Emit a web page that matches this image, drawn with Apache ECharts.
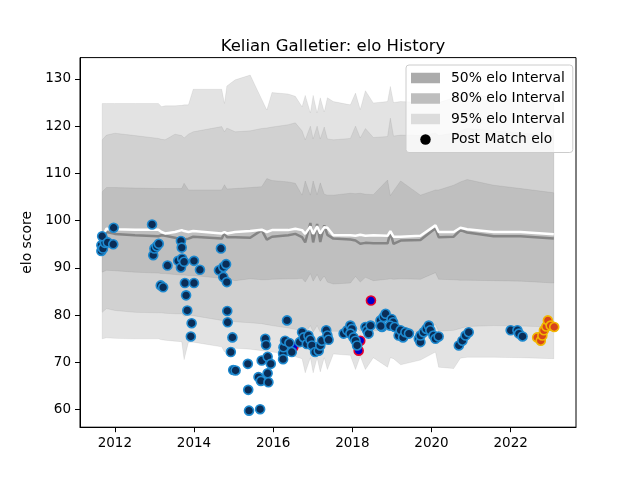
<!DOCTYPE html>
<html>
<head>
<meta charset="utf-8">
<script src="https://cdn.jsdelivr.net/npm/echarts@6/dist/echarts.min.js"></script>
<style>
  html, body { margin: 0; padding: 0; background: #fff; }
  #main { width: 640px; height: 480px; }
</style>
</head>
<body>
<div id="main"></div>
<script>
// band sample dates (decimal years)
var bandYears = [2011.68, 2011.79, 2012.0, 2012.51, 2013.10, 2013.18, 2013.27, 2013.52, 2013.69, 2013.75,
  2013.86, 2013.98, 2014.70, 2014.77, 2014.83, 2015.04, 2015.42, 2015.71, 2015.84, 2015.97,
  2016.38, 2016.56, 2016.73, 2016.81, 2016.94, 2017.01, 2017.11, 2017.19, 2017.29, 2017.37,
  2017.52, 2017.95, 2018.08, 2018.20, 2018.33, 2018.53, 2018.89, 2018.96, 2019.04, 2019.22,
  2019.72, 2020.10, 2020.18, 2020.56, 2020.73, 2020.90, 2021.57, 2022.25, 2023.09];

var upper95 = [124.8, 124.8, 124.8, 124.8, 124.8, 124.1, 124.3, 124.3, 124.4, 124.5,
  124.5, 127.8, 127.8, 124.8, 128.5, 129.8, 130.8, 125.7, 123.4, 127.1,
  126.8, 126.3, 124.1, 126.5, 122.8, 126.5, 122.8, 126.0, 123.0, 126.0,
  125.2, 124.5, 127.0, 123.5, 127.5, 124.9, 125.2, 128.4, 125.0, 125.2,
  125.0, 126.5, 125.0, 126.0, 126.5, 127.0, 126.0, 125.5, 125.0];
var upper80 = [117.1, 118.1, 118.5, 118.0, 117.4, 117.2, 117.1, 118.3, 118.0, 117.5,
  118.3, 118.8, 119.9, 118.8, 119.6, 118.8, 119.0, 119.5, 119.6, 119.8,
  120.3, 120.7, 119.0, 117.1, 120.0, 117.3, 120.0, 117.3, 119.8, 117.3,
  117.1, 117.4, 120.0, 117.5, 119.5, 117.6, 117.8, 121.7, 117.9, 118.1,
  118.0, 118.5, 118.0, 118.5, 119.0, 119.5, 119.0, 118.5, 118.0];
var upper50 = [106.1, 107.0, 107.0, 106.9, 106.8, 106.8, 106.8, 106.8, 106.8, 107.9,
  106.5, 106.5, 106.5, 107.6, 106.7, 106.8, 107.0, 107.2, 108.9, 108.5,
  108.2, 107.9, 105.4, 108.4, 105.4, 108.4, 105.5, 108.0, 105.6, 105.4,
  105.4, 105.8, 105.7, 105.8, 105.6, 105.5, 108.6, 105.3, 106.3, 108.4,
  105.4, 106.5, 106.5, 107.5, 108.2, 108.7, 107.5, 106.8, 105.9];
var lineLight = [96.5, 98.3, 98.2, 98.1, 98.1, 97.6, 97.3, 97.6, 98.0, 97.8,
  97.6, 97.8, 97.3, 97.6, 97.3, 97.6, 97.8, 98.1, 97.6, 98.0,
  98.0, 98.3, 98.0, 97.2, 98.8, 97.2, 98.8, 97.3, 98.6, 98.5,
  96.9, 96.9, 96.8, 97.0, 96.8, 96.9, 96.8, 97.8, 96.6, 96.6,
  96.8, 99.0, 97.6, 97.6, 98.5, 98.2, 97.6, 97.6, 97.1];
var lineDark = [95.8, 97.6, 97.2, 96.9, 96.7, 96.9, 96.8, 96.4, 96.0, 96.0,
  96.2, 96.6, 96.2, 97.4, 96.5, 96.5, 96.4, 98.0, 96.0, 96.6,
  96.9, 97.2, 96.5, 95.4, 99.5, 95.4, 99.3, 95.5, 99.0, 97.0,
  96.2, 96.0, 95.8, 95.1, 95.3, 95.2, 95.2, 97.5, 95.1, 95.8,
  95.9, 98.4, 96.5, 96.6, 98.0, 97.5, 96.7, 96.7, 96.2];
var lower50 = [89.1, 89.5, 89.4, 89.1, 88.9, 88.8, 88.8, 88.6, 88.5, 88.5,
  88.4, 88.4, 87.8, 87.7, 87.7, 87.3, 87.7, 87.5, 87.5, 87.6,
  87.7, 87.7, 87.8, 87.0, 88.8, 87.2, 88.6, 87.2, 88.3, 87.0,
  86.6, 86.8, 88.2, 87.0, 88.0, 87.3, 87.6, 87.7, 87.6, 87.7,
  87.6, 89.0, 87.6, 87.5, 87.4, 87.4, 87.3, 87.2, 86.8];
var lower80 = [80.6, 81.4, 81.0, 80.6, 80.5, 80.5, 80.4, 80.3, 80.3, 79.8,
  80.0, 79.9, 78.9, 79.1, 78.9, 78.6, 78.4, 78.2, 78.0, 77.8,
  77.3, 77.0, 76.7, 76.2, 77.8, 76.4, 77.8, 76.4, 77.5, 76.5,
  76.6, 76.6, 77.6, 76.6, 77.5, 76.7, 76.8, 77.5, 76.6, 76.5,
  76.4, 78.0, 76.6, 76.8, 77.2, 77.6, 77.8, 77.7, 77.5];
var lower95 = [75.0, 75.2, 75.1, 75.0, 75.0, 74.8, 74.7, 74.5, 74.4, 70.6,
  74.3, 74.3, 73.3, 72.2, 73.2, 73.0, 72.8, 72.5, 72.3, 72.2,
  71.8, 71.2, 70.8, 67.8, 71.0, 67.8, 71.0, 68.0, 71.0, 68.5,
  71.8, 71.5, 68.5, 71.3, 68.5, 71.0, 69.0, 71.0, 70.8, 69.5,
  70.5, 72.2, 69.0, 68.7, 70.9, 71.1, 71.1, 71.0, 70.8];

// post match elo
var matchYears = [2011.66, 2011.66, 2011.70, 2011.73, 2011.75, 2011.68, 2011.82, 2011.96, 2011.97, 2012.94,
  2012.97, 2013.00, 2013.06, 2013.11, 2013.16, 2013.22, 2013.33, 2013.60, 2013.67, 2013.67,
  2013.69, 2013.70, 2013.75, 2013.77, 2013.80, 2013.83, 2013.92, 2013.94, 2014.00, 2014.00,
  2014.15, 2014.63, 2014.68, 2014.74, 2014.74, 2014.81, 2014.83, 2014.84, 2014.85, 2014.93,
  2014.97, 2014.99, 2015.05, 2015.36, 2015.37, 2015.39, 2015.63, 2015.67, 2015.69, 2015.71,
  2015.80, 2015.82, 2015.86, 2015.86, 2015.88, 2015.94, 2016.25, 2016.25, 2016.26, 2016.30,
  2016.35, 2016.41, 2016.47, 2016.67, 2016.73, 2016.77, 2016.85, 2016.89, 2016.94, 2016.98,
  2017.06, 2017.15, 2017.19, 2017.23, 2017.34, 2017.37, 2017.40, 2017.78, 2017.87, 2017.95,
  2017.99, 2017.95, 2018.03, 2018.08, 2018.12, 2018.33, 2018.37, 2018.41, 2018.46, 2018.71,
  2018.75, 2018.79, 2018.84, 2018.72, 2018.99, 2019.03, 2018.95, 2019.07, 2019.17, 2019.22,
  2019.28, 2019.34, 2019.43, 2019.68, 2019.72, 2019.72, 2019.80, 2019.87, 2019.93, 2019.97,
  2020.05, 2020.10, 2020.18, 2020.69, 2020.78, 2020.86, 2020.94, 2022.00, 2022.17, 2022.21,
  2022.30];
var matchElo = [93.6, 94.8, 94.1, 95.8, 95.3, 96.7, 95.4, 95.0, 98.5, 99.2,
  92.7, 94.1, 94.6, 95.1, 86.3, 85.9, 90.5, 91.5, 90.1, 95.7,
  94.3, 92.0, 91.3, 86.8, 84.2, 81.0, 75.5, 78.3, 91.5, 86.8,
  89.6, 89.5, 94.1, 90.2, 88.1, 90.8, 87.0, 80.9, 78.5, 72.2,
  75.3, 68.4, 68.3, 69.7, 64.2, 59.8, 66.9, 60.1, 66.1, 70.4,
  75.0, 73.7, 71.2, 67.7, 65.8, 69.7, 71.9, 70.7, 73.2, 74.6,
  78.9, 74.1, 72.2, 74.3, 76.4, 75.3, 73.9, 75.7, 74.8, 73.6,
  72.2, 72.5, 73.6, 74.6, 76.8, 75.7, 74.8, 76.1, 76.8, 77.8,
  77.1, 76.1, 75.3, 74.6, 73.6, 77.5, 76.8, 76.1, 77.8, 78.9,
  77.5, 79.6, 80.3, 77.7, 79.2, 78.5, 77.8, 77.5, 75.7, 76.8,
  75.3, 76.4, 76.1, 75.0, 74.3, 75.7, 76.4, 77.1, 77.8, 76.8,
  75.7, 75.0, 75.5, 73.6, 74.6, 75.7, 76.4, 76.8, 76.8, 76.1,
  75.5];
var flaggedYears = [2016.51, 2018.16, 2018.20, 2018.47];
var flaggedElo = [73.2, 72.5, 74.6, 83.1];
var recentYears = [2022.67, 2022.76, 2022.80, 2022.84, 2022.90, 2022.94, 2023.01, 2023.10];
var recentElo = [75.3, 74.6, 75.7, 76.8, 77.6, 78.9, 77.8, 77.5];

var xTicks = [2012, 2014, 2016, 2018, 2020, 2022];
var yTicks = [60, 70, 80, 90, 100, 110, 120, 130];

function pairs(xs, ys) {
  return xs.map(function (x, i) { return [x, ys[i]]; });
}

// fill between two bounds, converted with the chart's own coords
function band(name, upper, lower, fill) {
  return {
    name: name,
    type: "custom",
    coordinateSystem: "cartesian2d",
    silent: true,
    z: 1,
    itemStyle: { color: fill },
    data: [[bandYears[0], upper[0]]],
    renderItem: function (params, api) {
      var pts = [];
      for (var i = 0; i < bandYears.length; i++) pts.push(api.coord([bandYears[i], upper[i]]));
      for (var j = bandYears.length - 1; j >= 0; j--) pts.push(api.coord([bandYears[j], lower[j]]));
      return {
        type: "polygon",
        shape: { points: pts },
        style: { fill: fill, stroke: "rgba(0,0,0,0.06)", lineWidth: 1 }
      };
    }
  };
}

var font = "DejaVu Sans";
var chart = echarts.init(document.getElementById("main"));
chart.setOption({
  animation: false,
  title: {
    text: "Kelian Galletier: elo History",
    left: 328,
    top: 33,
    textAlign: "center",
    textStyle: { fontFamily: font, fontSize: 16.5, fontWeight: "normal", color: "#000" }
  },
  legend: {
    left: 406,
    top: 65,
    orient: "vertical",
    selectedMode: false,
    padding: [6, 8, 6, 5],
    itemWidth: 29,
    itemHeight: 10.5,
    itemGap: 6.5,
    backgroundColor: "rgba(255,255,255,0.8)",
    borderColor: "#cccccc",
    borderWidth: 1,
    borderRadius: 3,
    textStyle: { fontFamily: font, fontSize: 13.9, color: "#000", lineHeight: 14, padding: [0, 0, 0, 6] },
    data: [
      { name: "50% elo Interval", icon: "rect", itemStyle: { color: "#ababab", borderWidth: 0 } },
      { name: "80% elo Interval", icon: "rect", itemStyle: { color: "#bebebe", borderWidth: 0 } },
      { name: "95% elo Interval", icon: "rect", itemStyle: { color: "#dcdcdc", borderWidth: 0 } },
      { name: "Post Match elo", icon: "circle", itemStyle: { color: "#000", borderWidth: 0 } }
    ]
  },
  grid: {
    left: 80, right: 64, top: 57.6, bottom: 52.8,
    show: true, borderColor: "#000", borderWidth: 1, backgroundColor: "transparent"
  },
  xAxis: {
    type: "value",
    min: 2011.12,
    max: 2023.65,
    z: 10,
    splitLine: { show: false },
    axisLine: { lineStyle: { color: "#000", width: 1 } },
    axisTick: { length: 5, lineStyle: { color: "#000" }, customValues: xTicks },
    axisLabel: {
      customValues: xTicks, margin: 9, color: "#000", fontFamily: font, fontSize: 13.5,
      formatter: function (v) { return String(v); }
    }
  },
  yAxis: {
    type: "value",
    min: 56.3,
    max: 134.5,
    z: 10,
    name: "elo score",
    nameLocation: "middle",
    nameGap: 43,
    nameTextStyle: { fontFamily: font, fontSize: 13.9, color: "#000" },
    splitLine: { show: false },
    axisLine: { show: true, lineStyle: { color: "#000", width: 1 } },
    axisTick: { show: true, length: 5, lineStyle: { color: "#000" }, customValues: yTicks },
    axisLabel: {
      customValues: yTicks, margin: 9, color: "#000", fontFamily: font, fontSize: 13.5,
      formatter: function (v) { return String(v); }
    }
  },
  series: [
    band("95% elo Interval", upper95, lower95, "#e3e3e3"),
    band("80% elo Interval", upper80, lower80, "#d1d1d1"),
    band("50% elo Interval", upper50, lower50, "#bfbfbf"),
    {
      name: "dark line", type: "line", data: pairs(bandYears, lineDark), symbol: "none", silent: true, z: 2,
      lineStyle: { color: "#858585", width: 2.5 }
    },
    {
      name: "light line", type: "line", data: pairs(bandYears, lineLight), symbol: "none", silent: true, z: 2,
      lineStyle: { color: "#ffffff", width: 2.5 }
    },
    {
      name: "flagged", type: "scatter", data: pairs(flaggedYears, flaggedElo), symbolSize: 9, z: 3,
      itemStyle: { color: "#0000cc", borderColor: "#e6002e", borderWidth: 1.6, opacity: 1 }
    },
    {
      name: "Post Match elo", type: "scatter", data: pairs(matchYears, matchElo), symbolSize: 9, z: 4,
      itemStyle: { color: "#0a2d57", borderColor: "#1e8ad0", borderWidth: 1.6, opacity: 1 }
    },
    {
      name: "recent", type: "scatter", data: pairs(recentYears, recentElo), symbolSize: 9, z: 5,
      itemStyle: { color: "#d8451a", borderColor: "#f2b600", borderWidth: 1.6, opacity: 1 }
    }
  ]
});
</script>
</body>
</html>
